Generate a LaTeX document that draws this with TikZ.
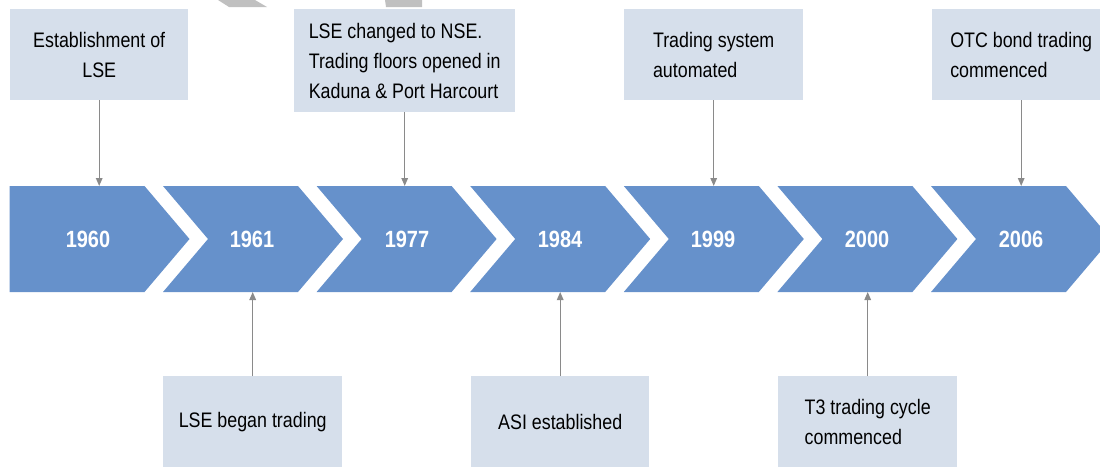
\documentclass[tikz,border=0pt]{standalone}
\usepackage{fontspec}
\setmainfont{Liberation Sans}[FakeStretch=0.85]
\usetikzlibrary{arrows.meta}
\definecolor{chev}{RGB}{102,145,203}
\definecolor{boxc}{RGB}{214,223,235}
\definecolor{arr}{RGB}{138,138,138}
\definecolor{wm}{RGB}{192,192,192}
\begin{document}
\begin{tikzpicture}[x=1pt,y=-1pt,
  evbox/.style={fill=boxc, draw=none, inner sep=0pt, anchor=north west,
    minimum height=91pt, font=\fontsize{21}{30}\selectfont},
  conn/.style={draw=arr, line width=1.4pt, -{Triangle[width=6.5pt,length=8pt]}},
  year/.style={text=white, font=\fontsize{23.5}{28}\selectfont\bfseries}]
\useasboundingbox (0,0) rectangle (1100,466);
\clip (0,0) rectangle (1100,466);
% watermark fragments
\fill[wm] (218,0) -- (255,0) -- (267,7) -- (229,7) -- cycle;
\fill[wm] (385,0) -- (422,0) -- (422,7) -- (386,7) -- cycle;
% chevrons
\coordinate (ctop) at (0,186);
\coordinate (cbot) at (0,292);
\fill[chev] (9.5,186) -- (144.5,186) -- (189.5,239) -- (144.5,292) -- (9.5,292) -- cycle;
\foreach \k in {1,...,6}{
  \pgfmathsetmacro{\xa}{9.4+153.6*\k}
  \fill[chev] (\xa,186) -- (\xa+135,186) -- (\xa+180,239) -- (\xa+135,292)
     -- (\xa,292) -- (\xa+45,239) -- cycle;
}
% years
\node[year] (y1) at (88,239) {1960};
\node[year] (y2) at (252,239) {1961};
\node[year] (y3) at (407,239) {1977};
\node[year] (y4) at (560,239) {1984};
\node[year] (y5) at (713,239) {1999};
\node[year] (y6) at (867,239) {2000};
\node[year] (y7) at (1021,239) {2006};
% event boxes
\node[evbox, minimum width=178pt, align=center] (b1) at (10,9) {Establishment of\\LSE};
\node[evbox, minimum width=179pt] (b2) at (163,376) {LSE began trading};
\node[evbox, minimum width=221pt, minimum height=103pt, align=left] (b3) at (294,9)
  {LSE changed to NSE.\\Trading floors opened in\\Kaduna \& Port Harcourt};
\node[evbox, minimum width=178pt] (b4) at (471,376) {ASI established};
\node[evbox, minimum width=179pt, align=left] (b5) at (624,9) {Trading system\\automated};
\node[evbox, minimum width=179pt, align=left] (b6) at (778,376) {T3 trading cycle\\commenced};
\node[evbox, minimum width=178pt, align=left] (b7) at (932,9) {OTC bond trading\\commenced};
% connectors
\draw[conn] (b1.south) -- (b1.south |- ctop);
\draw[conn] (b3.south) -- (b3.south |- ctop);
\draw[conn] (b5.south) -- (b5.south |- ctop);
\draw[conn] (b7.south) -- (b7.south |- ctop);
\draw[conn] (b2.north) -- (b2.north |- cbot);
\draw[conn] (b4.north) -- (b4.north |- cbot);
\draw[conn] (b6.north) -- (b6.north |- cbot);
\end{tikzpicture}
\end{document}
